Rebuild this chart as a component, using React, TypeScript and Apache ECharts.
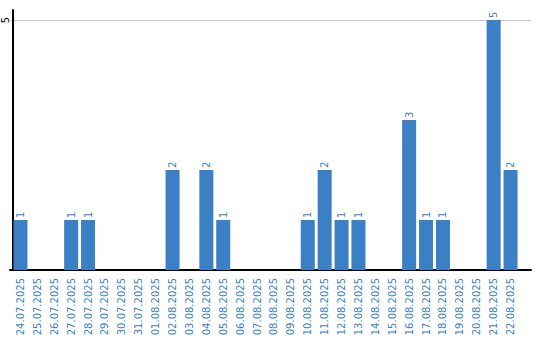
import React, { useEffect, useRef } from "react";
import * as echarts from "echarts";

const categories = [
  "24.07.2025", "25.07.2025", "26.07.2025", "27.07.2025", "28.07.2025", "29.07.2025",
  "30.07.2025", "31.07.2025", "01.08.2025", "02.08.2025", "03.08.2025", "04.08.2025",
  "05.08.2025", "06.08.2025", "07.08.2025", "08.08.2025", "09.08.2025", "10.08.2025",
  "11.08.2025", "12.08.2025", "13.08.2025", "14.08.2025", "15.08.2025", "16.08.2025",
  "17.08.2025", "18.08.2025", "19.08.2025", "20.08.2025", "21.08.2025", "22.08.2025",
];
const values = [1, 0, 0, 1, 1, 0, 0, 0, 0, 2, 0, 2, 1, 0, 0, 0, 0, 1, 2, 1, 1, 0, 0, 3, 1, 1, 0, 0, 5, 2];
const yTickLabels = ["5"];

export default function App() {
  const ref = useRef<HTMLDivElement>(null);
  useEffect(() => {
    const chart = echarts.init(ref.current!, null, { renderer: "svg" });
    const blue = "#3b7fc4";
    chart.setOption({
      animation: false,
      grid: [
        { left: 9, right: 21, top: 10, bottom: 70 },
        { left: 10, right: 9, top: 20, bottom: 70 },
      ],
      xAxis: [
        {
          type: "category",
          gridIndex: 0,
          data: categories,
          axisLine: { show: false },
          axisTick: { show: false },
          axisLabel: {
            interval: 0,
            rotate: 90,
            margin: 8,
            color: blue,
            fontFamily: "DejaVu Sans",
            fontSize: 10,
          },
        },
        {
          type: "value",
          gridIndex: 1,
          min: 0,
          max: 1,
          axisLine: { show: true, lineStyle: { color: "#000", width: 2 } },
          axisTick: { show: false },
          axisLabel: { show: false },
          splitLine: { show: false },
        },
      ],
      yAxis: [
        {
          type: "value",
          gridIndex: 0,
          min: 0,
          max: 5.2,
          interval: 5,
          offset: -1,
          axisLine: { show: true, lineStyle: { color: "#000", width: 2 } },
          axisTick: { show: false },
          splitLine: { show: false },
          axisLabel: {
            rotate: 90,
            margin: 3,
            color: "#000",
            fontFamily: "DejaVu Sans",
            fontSize: 10,
            formatter: (v: number) => (yTickLabels.includes(String(v)) ? String(v) : ""),
          },
        },
        {
          type: "value",
          gridIndex: 1,
          min: 0,
          max: 5,
          interval: 5,
          axisLine: { show: false },
          axisTick: { show: false },
          axisLabel: { show: false },
          splitLine: { show: true, lineStyle: { color: "#c8c8c8", width: 1 } },
        },
      ],
      series: [
        {
          type: "bar",
          xAxisIndex: 0,
          yAxisIndex: 0,
          data: values.map((v) => (v === 0 ? null : v)),
          barWidth: 14,
          itemStyle: { color: blue },
          label: {
            show: true,
            position: "top",
            rotate: 90,
            align: "left",
            verticalAlign: "middle",
            distance: 2,
            color: blue,
            fontFamily: "DejaVu Sans",
            fontSize: 10,
          },
          z: 3,
        },
      ],
    });
    return () => chart.dispose();
  }, []);
  return (
    <div
      ref={ref}
      style={{ position: "absolute", left: 0, top: 0, width: 540, height: 340 }}
    />
  );
}
